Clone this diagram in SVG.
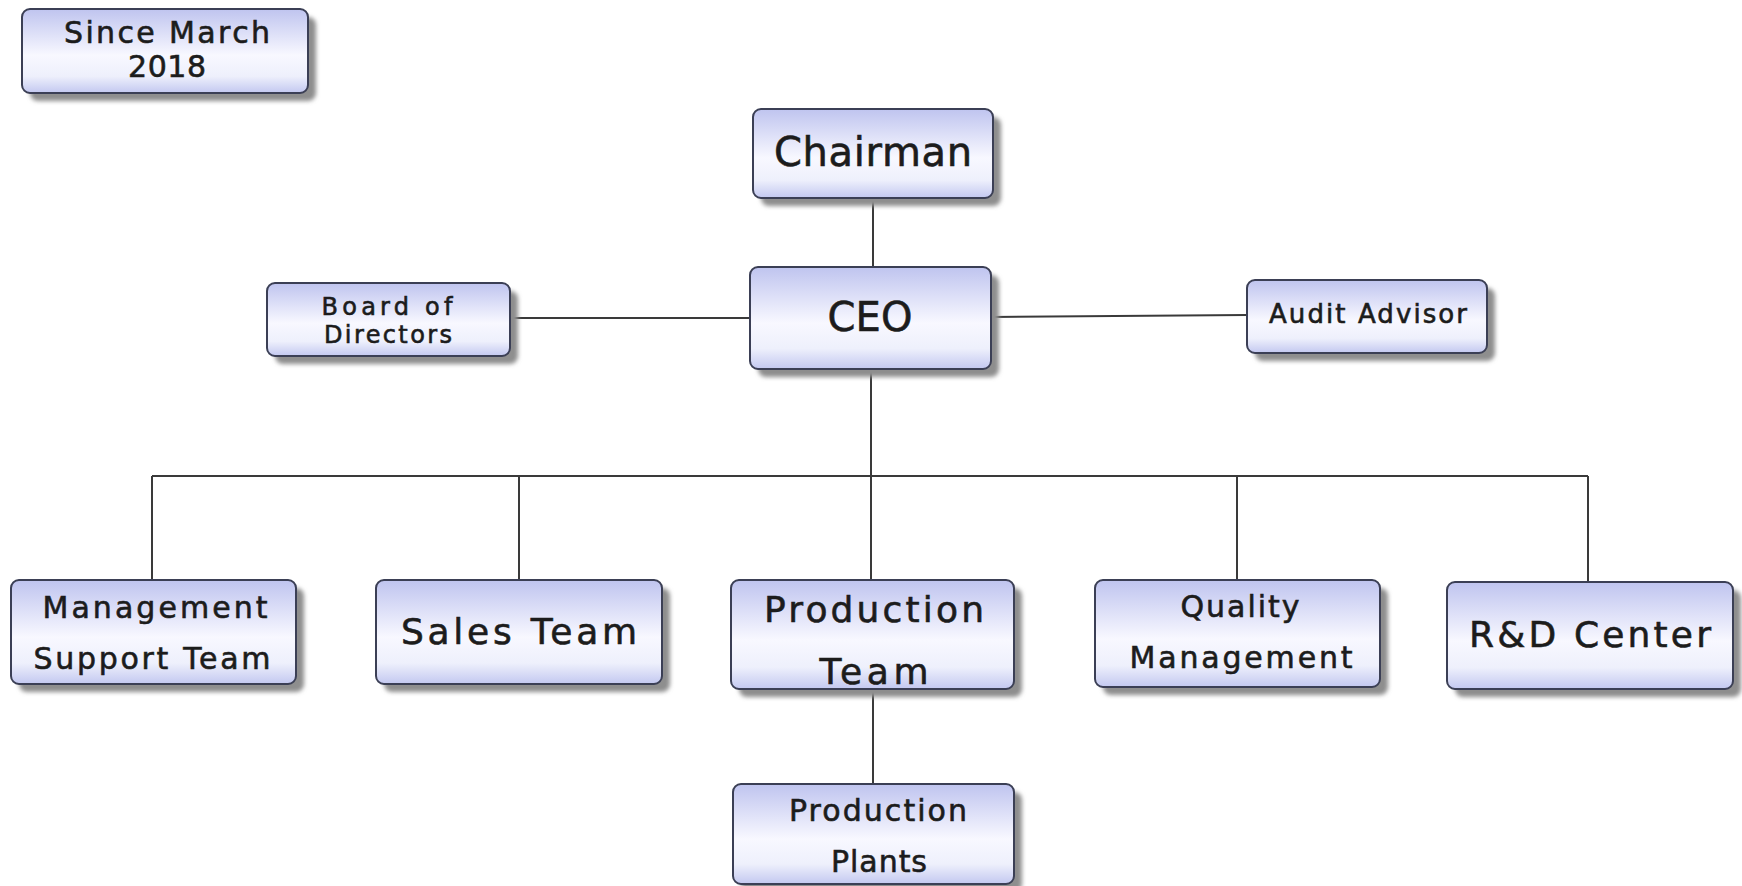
<svg xmlns="http://www.w3.org/2000/svg" width="1742" height="886" viewBox="0 0 1742 886">
<defs>
<linearGradient id="fill" x1="0" y1="0" x2="0" y2="1">
<stop offset="0" stop-color="#bfc4ef"/>
<stop offset="0.55" stop-color="#f8f8ff"/>
<stop offset="0.8" stop-color="#eef0fc"/>
<stop offset="1" stop-color="#c3c8f0"/>
</linearGradient>
<filter id="blur" x="-10%" y="-10%" width="120%" height="130%"><feGaussianBlur stdDeviation="2"/></filter>
</defs>
<style>
.shadow{fill:#8e8e8e;filter:url(#blur)}
.box{fill:url(#fill);stroke:#3b3f55;stroke-width:2}
.t{font-family:"DejaVu Sans","Liberation Sans",sans-serif;fill:#1c1c1c;stroke:#1c1c1c;stroke-width:0.6;text-anchor:middle}
.conn{stroke:#3a3a3a;stroke-width:2;fill:none}
</style>
<rect width="1742" height="886" fill="#ffffff"/>
<g id="connectors" class="conn">
<path d="M873 198V267"/>
<path d="M510 318H750"/>
<path d="M991 317L1247 315"/>
<path d="M871 369V476"/>
<path d="M152 476H1588"/>
<path d="M152 476V580"/>
<path d="M519 476V580"/>
<path d="M871 476V580"/>
<path d="M1237 476V580"/>
<path d="M1588 476V582"/>
<path d="M873 689V784"/>
</g>
<g id="since">
<rect class="shadow" x="30" y="17" width="286" height="84" rx="8"/>
<rect class="box" x="22" y="9" width="286" height="84" rx="8"/>
<text class="t" font-size="30" x="167" y="43" textLength="206">Since March</text>
<text class="t" font-size="30" x="167" y="77" textLength="78">2018</text>
</g>
<g id="chairman">
<rect class="shadow" x="761" y="117" width="240" height="89" rx="8"/>
<rect class="box" x="753" y="109" width="240" height="89" rx="8"/>
<text class="t" font-size="40" x="873" y="166" textLength="198">Chairman</text>
</g>
<g id="ceo">
<rect class="shadow" x="758" y="275" width="241" height="102" rx="8"/>
<rect class="box" x="750" y="267" width="241" height="102" rx="8"/>
<text class="t" font-size="40" x="870" y="331" textLength="85">CEO</text>
</g>
<g id="board">
<rect class="shadow" x="275" y="291" width="243" height="73" rx="8"/>
<rect class="box" x="267" y="283" width="243" height="73" rx="8"/>
<text class="t" font-size="24" x="387" y="315" textLength="131">Board of</text>
<text class="t" font-size="24" x="388" y="343" textLength="128">Directors</text>
</g>
<g id="audit">
<rect class="shadow" x="1255" y="288" width="240" height="73" rx="8"/>
<rect class="box" x="1247" y="280" width="240" height="73" rx="8"/>
<text class="t" font-size="26" x="1368" y="323" textLength="198">Audit Advisor</text>
</g>
<g id="mgmt">
<rect class="shadow" x="19" y="588" width="285" height="104" rx="8"/>
<rect class="box" x="11" y="580" width="285" height="104" rx="8"/>
<text class="t" font-size="30" x="155" y="618" textLength="225">Management</text>
<text class="t" font-size="30" x="152" y="669" textLength="237">Support Team</text>
</g>
<g id="sales">
<rect class="shadow" x="384" y="588" width="286" height="104" rx="8"/>
<rect class="box" x="376" y="580" width="286" height="104" rx="8"/>
<text class="t" font-size="36" x="519" y="644" textLength="236">Sales Team</text>
</g>
<g id="prodteam">
<rect class="shadow" x="739" y="588" width="283" height="109" rx="8"/>
<rect class="box" x="731" y="580" width="283" height="109" rx="8"/>
<text class="t" font-size="36" x="874" y="622" textLength="220">Production</text>
<text class="t" font-size="36" x="874" y="684" textLength="109">Team</text>
</g>
<g id="quality">
<rect class="shadow" x="1103" y="588" width="285" height="107" rx="8"/>
<rect class="box" x="1095" y="580" width="285" height="107" rx="8"/>
<text class="t" font-size="30" x="1240" y="617" textLength="119">Quality</text>
<text class="t" font-size="30" x="1241" y="668" textLength="223">Management</text>
</g>
<g id="rd">
<rect class="shadow" x="1455" y="590" width="286" height="107" rx="8"/>
<rect class="box" x="1447" y="582" width="286" height="107" rx="8"/>
<text class="t" font-size="36" x="1590" y="647" textLength="242">R&amp;D Center</text>
</g>
<g id="plants">
<rect class="shadow" x="741" y="792" width="281" height="100" rx="8"/>
<rect class="box" x="733" y="784" width="281" height="100" rx="8"/>
<text class="t" font-size="30" x="878" y="821" textLength="178">Production</text>
<text class="t" font-size="30" x="879" y="872" textLength="96">Plants</text>
</g>
</svg>
